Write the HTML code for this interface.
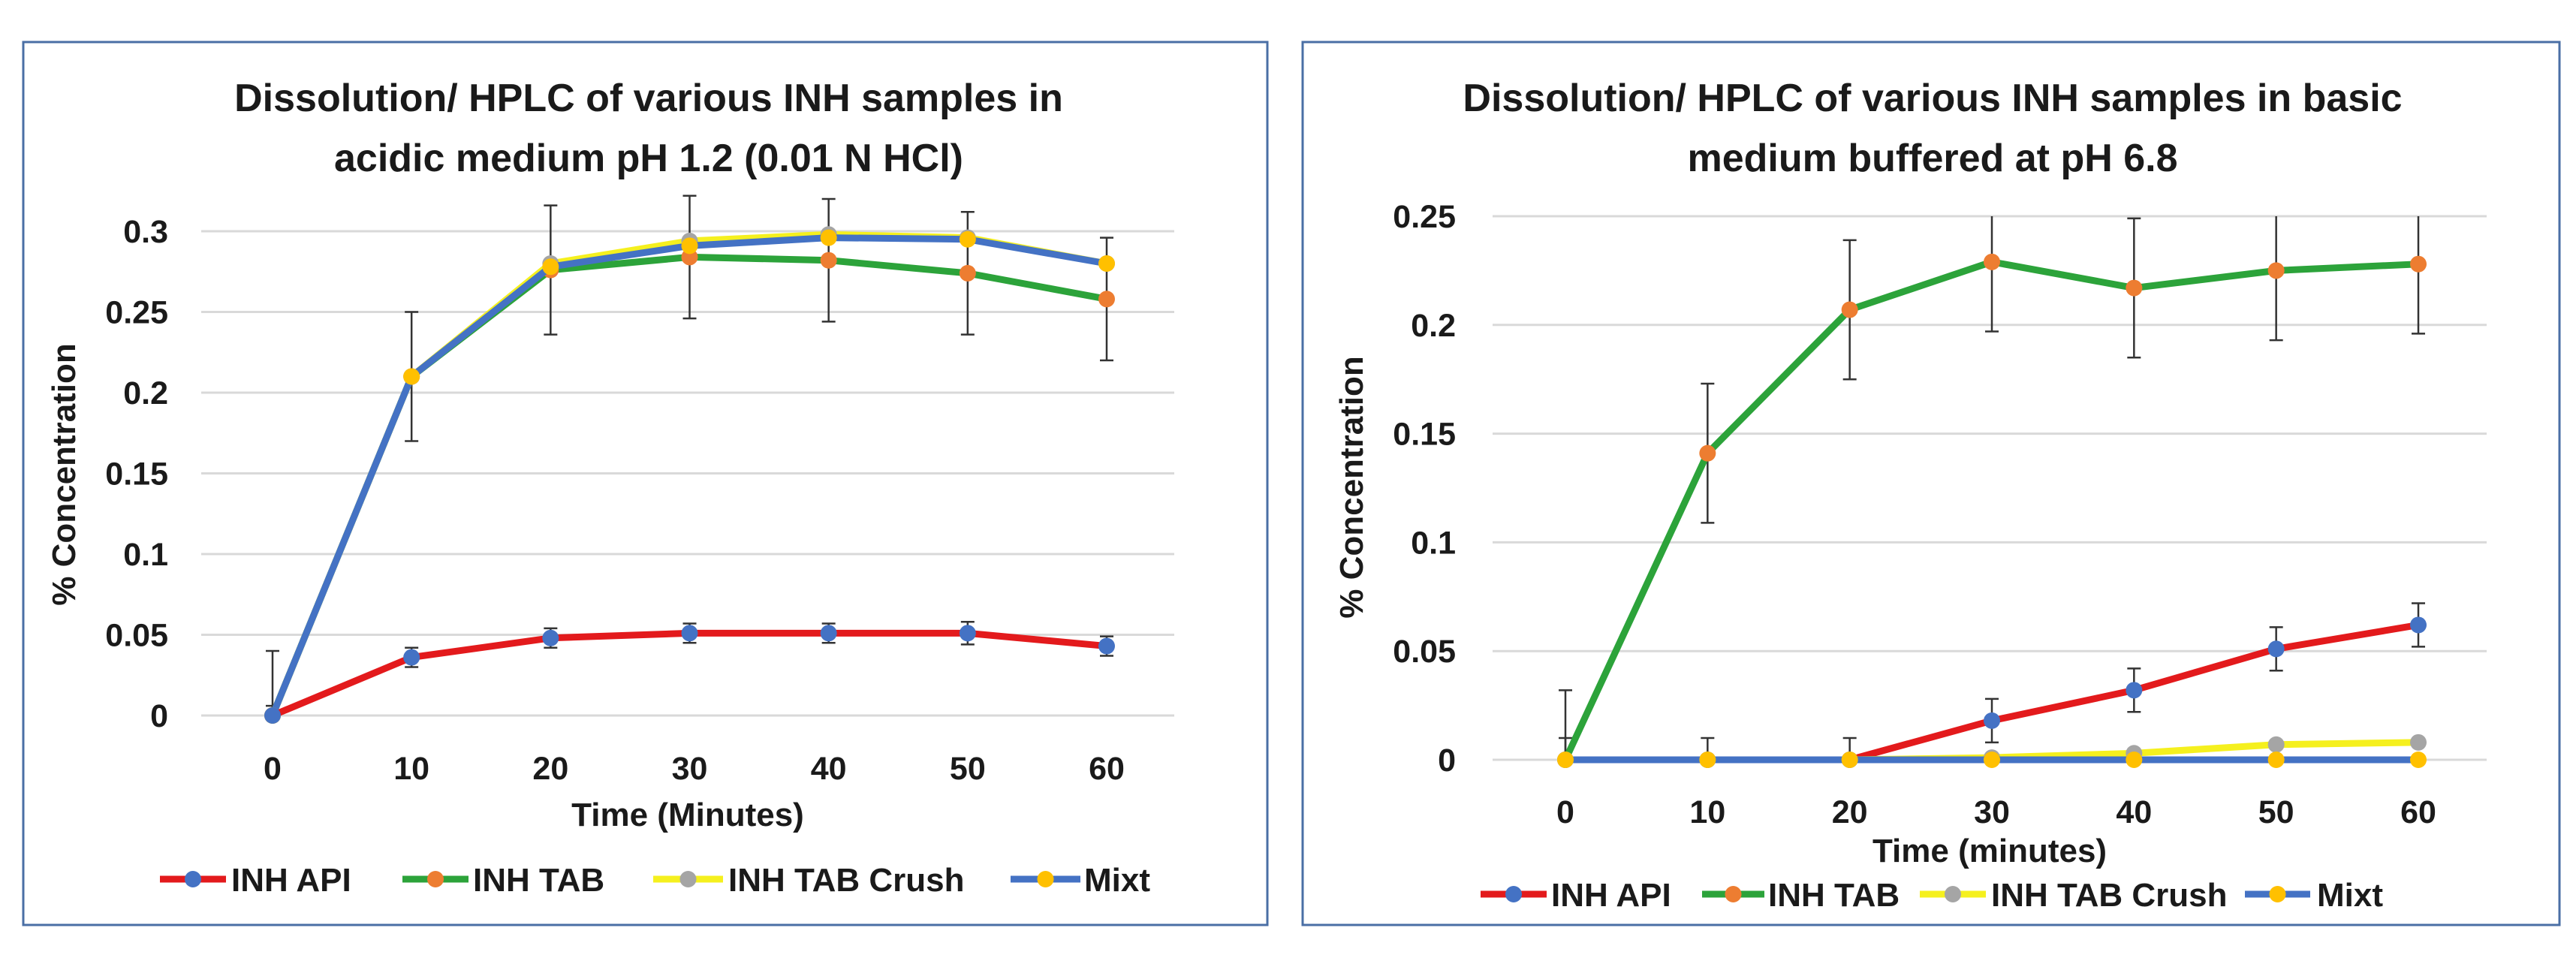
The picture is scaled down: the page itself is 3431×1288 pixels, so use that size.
<!DOCTYPE html>
<html><head><meta charset="utf-8"><style>
html,body{margin:0;padding:0;background:#fff;}
svg{display:block;font-family:"Liberation Sans",sans-serif;font-weight:bold;}
</style></head><body>
<svg id="s" width="3431" height="1288" viewBox="0 0 3431 1288"></svg>
<script>
const xCats=[0,10,20,30,40,50,60];
const seriesNames=["INH API","INH TAB","INH TAB Crush","Mixt"];
const lineColors=["#e31a1c","#2ca33a","#f5f01e","#4472c4"];
const markerColors=["#4472c4","#ed7d31","#a5a5a5","#ffc000"];
// left chart data
const leftAPI=[0,0.036,0.048,0.051,0.051,0.051,0.043];
const leftTAB=[0,0.21,0.276,0.284,0.282,0.274,0.258];
const leftCrush=[0,0.21,0.28,0.294,0.298,0.296,0.28];
const leftMixt=[0,0.21,0.278,0.291,0.296,0.295,0.28];
const leftAPIErr=[0.006,0.006,0.006,0.006,0.006,0.007,0.006];
const leftTABErr=[0.04,0.04,0.04,0.038,0.038,0.038,0.038];
const leftYTicks=[0,0.05,0.1,0.15,0.2,0.25,0.3];
const leftYLabels=["0","0.05","0.1","0.15","0.2","0.25","0.3"];
// right chart data
const rightAPI=[0,0,0,0.018,0.032,0.051,0.062];
const rightTAB=[0,0.141,0.207,0.229,0.217,0.225,0.228];
const rightCrush=[0,0,0,0.001,0.003,0.007,0.008];
const rightMixt=[0,0,0,0,0,0,0];
const rightAPIErr=[0.01,0.01,0.01,0.01,0.01,0.01,0.01];
const rightTABErr=[0.032,0.032,0.032,0.032,0.032,0.032,0.032];
const rightYTicks=[0,0.05,0.1,0.15,0.2,0.25];
const rightYLabels=["0","0.05","0.1","0.15","0.2","0.25"];

const NS="http://www.w3.org/2000/svg";
const svg=document.getElementById('s');
function mk(tag,attrs,parent,text){const e=document.createElementNS(NS,tag);for(const k in attrs)e.setAttribute(k,attrs[k]);if(text!==undefined)e.textContent=text;(parent||svg).appendChild(e);return e;}

function chart(cfg){
  const g=mk('g',{});
  
  
  const b=mk('rect',{x:cfg.bx,y:56,width:cfg.bw,height:1176,fill:'#fff',stroke:'#4a6fa5','stroke-width':3},g);
  
  
  const X=v=>cfg.x0+(v-0)*(cfg.x60-cfg.x0)/60;
  const Y=v=>cfg.y0+(cfg.yTop-cfg.y0)*v/cfg.yMax;
  cfg.titles.forEach((t,i)=>{const e=mk('text',{x:cfg.tcx,y:[148,228][i],'text-anchor':'middle','font-size':52,fill:'#1a1a1a'},g,t);
    
    });
  cfg.yt.forEach((v,i)=>{
    const gl=mk('line',{x1:cfg.gx1,x2:cfg.gx2,y1:Y(v),y2:Y(v),stroke:'#d9d9d9','stroke-width':3},g);
    
    
    const tl=mk('text',{x:cfg.ylx,y:Y(v)+15,'text-anchor':'end','font-size':43,fill:'#1a1a1a'},g,cfg.yl[i]);
    
    
  });
  xCats.forEach(c=>{const t=mk('text',{x:X(c),y:cfg.xly,'text-anchor':'middle','font-size':43,fill:'#1a1a1a'},g,String(c));
    
    });
  const xt=mk('text',{x:(cfg.gx1+cfg.gx2)/2,y:cfg.xty,'text-anchor':'middle','font-size':44,fill:'#1a1a1a'},g,cfg.xTitle);
  
  
  const yt=mk('text',{x:0,y:0,transform:`translate(${cfg.ytx},${cfg.yty}) rotate(-90)`,'text-anchor':'middle','font-size':44,fill:'#1a1a1a'},g,'% Concentration');
  
  
  const clipTop=cfg.clip?Y(cfg.yMax):-1e9;
  cfg.errs.forEach(([vals,errs,zeroTop])=>{
    vals.forEach((v,i)=>{
      let hi=v+errs[i],lo=Math.max(0,v-errs[i]);
      if(i===0&&zeroTop!==undefined)hi=zeroTop;
      const yh=Math.max(Y(hi),clipTop),yl=Y(lo),x=X(xCats[i]);
      const eb=mk('g',{stroke:'#333','stroke-width':2.5},g);
      
      
      mk('line',{x1:x,x2:x,y1:yh,y2:yl},eb);
      if(Y(hi)>=clipTop-1)mk('line',{x1:x-9,x2:x+9,y1:yh,y2:yh},eb);
      mk('line',{x1:x-9,x2:x+9,y1:yl,y2:yl},eb);
    });
  });
  cfg.order.forEach(si=>{
    const vals=cfg.series[si];
    const pl=mk('polyline',{points:vals.map((v,i)=>X(xCats[i])+','+Y(v)).join(' '),fill:'none',stroke:lineColors[si],'stroke-width':9,'stroke-linejoin':'round'},g);
    
    
    vals.forEach((v,i)=>{const c=mk('circle',{cx:X(xCats[i]),cy:Y(v),r:11,fill:markerColors[si]},g);
      
      });
  });
  seriesNames.forEach((n,si)=>{
    const [lx1,lx2,tx]=cfg.leg[si];
    const lg=mk('g',{},g);
    
    
    mk('line',{x1:lx1,x2:lx2,y1:cfg.legy,y2:cfg.legy,stroke:lineColors[si],'stroke-width':9},lg);
    mk('circle',{cx:(lx1+lx2)/2,cy:cfg.legy,r:11,fill:markerColors[si]},lg);
    mk('text',{x:tx,y:cfg.legy+16,'font-size':44,fill:'#1a1a1a'},lg,n);
  });
}
chart({name:'acidic-chart',bx:31,bw:1657,titles:['Dissolution/ HPLC of various INH samples in','acidic medium pH 1.2 (0.01 N HCl)'],tcx:864,
  x0:363,x60:1474,y0:953,yTop:308,yMax:0.3,gx1:268,gx2:1564,ylx:224,yt:leftYTicks,yl:leftYLabels,xly:1038,xty:1100,xTitle:'Time (Minutes)',
  ytx:100,yty:632,series:[leftAPI,leftTAB,leftCrush,leftMixt],order:[1,2,3,0],
  errs:[[leftTAB,leftTABErr,0.04],[leftAPI,leftAPIErr]],
  legy:1171,leg:[[213,301,308],[536,624,630],[870,963,970],[1346,1439,1444]]});
chart({name:'basic-chart',bx:1735,bw:1674,titles:['Dissolution/ HPLC of various INH samples in basic','medium buffered at pH 6.8'],tcx:2574,
  x0:2085,x60:3221,y0:1012,yTop:288,yMax:0.25,gx1:1988,gx2:3312,ylx:1939,yt:rightYTicks,yl:rightYLabels,xly:1096,xty:1148,xTitle:'Time (minutes)',
  ytx:1815,yty:649,series:[rightAPI,rightTAB,rightCrush,rightMixt],order:[1,0,2,3],clip:true,
  errs:[[rightTAB,rightTABErr,0.032],[rightAPI,rightAPIErr]],
  legy:1191,leg:[[1972,2060,2066],[2267,2350,2355],[2557,2645,2652],[2990,3077,3086]]});
</script>
</body></html>
